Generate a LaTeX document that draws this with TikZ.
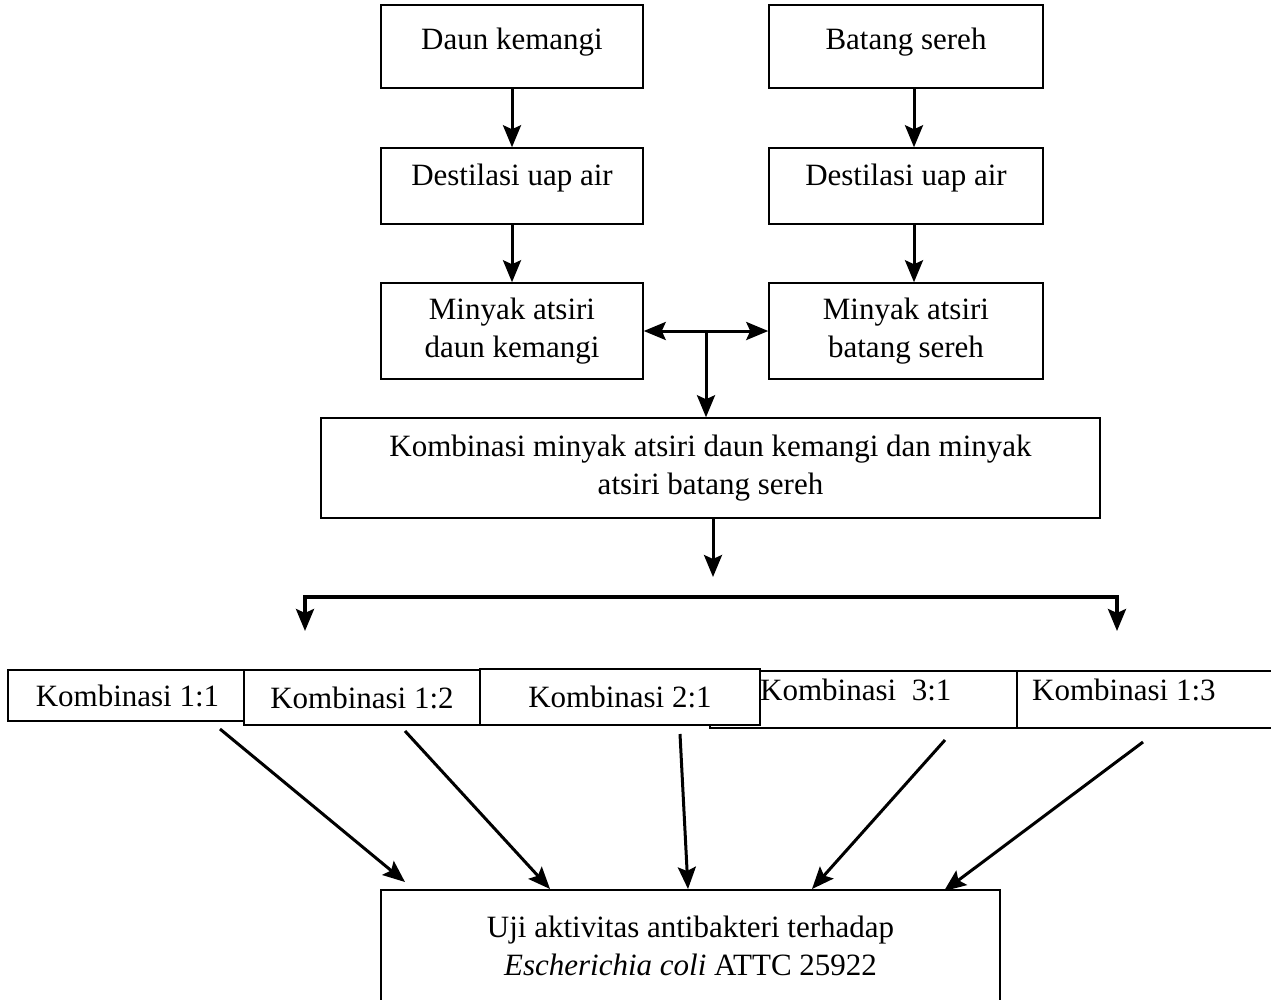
\documentclass[tikz,border=0pt]{standalone}
\usepackage{fontspec}
\setmainfont{Liberation Serif}
\usetikzlibrary{arrows.meta,calc}
\begin{document}
\begin{tikzpicture}[x=1pt,y=-1pt,
  box/.style={draw=black,line width=1.5pt,fill=white,inner sep=0pt,align=center,
    font=\fontsize{31}{38}\selectfont},
  txt/.style={inner sep=0pt,font=\fontsize{31}{38}\selectfont},
  tip/.tip={Stealth[length=22pt,width=18pt,inset=4pt]},
  arr/.style={line width=3pt,-tip},
  darr/.style={line width=3pt,tip-tip}]
\useasboundingbox (0,0) rectangle (1271,999);
% top boxes
\node[box,minimum width=262pt,minimum height=83pt] (dk) at (512,46.5) {};
\node[txt] at (512,42) {Daun kemangi};
\node[box,minimum width=274pt,minimum height=83pt] (bs) at (906,46.5) {};
\node[txt] at (906,42) {Batang sereh};
\node[box,minimum width=262pt,minimum height=76pt] (dl) at (512,186) {};
\node[txt] at (512,178) {Destilasi uap air};
\node[box,minimum width=274pt,minimum height=76pt] (dr) at (906,186) {};
\node[txt] at (906,178) {Destilasi uap air};
\node[box,minimum width=262pt,minimum height=96pt] (ml) at (512,331) {Minyak atsiri\\daun kemangi};
\node[box,minimum width=274pt,minimum height=96pt] (mr) at (906,331) {Minyak atsiri\\batang sereh};
\node[box,minimum width=779pt,minimum height=100pt] (kb) at (710.5,468) {Kombinasi minyak atsiri daun kemangi dan minyak\\atsiri batang sereh};
% arrows top
\draw[arr] (dk.south) -- (dl.north);
\draw[arr] ($(bs.south)+(8,0)$) -- ($(dr.north)+(8,0)$);
\draw[arr] (dl.south) -- (ml.north);
\draw[arr] ($(dr.south)+(8,0)$) -- ($(mr.north)+(8,0)$);
\draw[darr] (ml.east) -- (mr.west);
\coordinate (mid) at (706,331);
\draw[arr] (mid) -- (mid |- kb.north);
\coordinate (kbend) at (713,577);
\draw[arr] ($(kb.south)+(2.5,0)$) -- (kbend);
% bracket
\coordinate (bl) at (305,631);
\coordinate (br) at (1117,631);
\draw[darr,line width=3.4pt] (bl) -- (305,597) -- (1117,597) -- (br);
% kombinasi row
\node[box,minimum width=239pt,minimum height=51pt] (k11) at (127.5,695.5) {Kombinasi 1:1};
\node[box,minimum width=236pt,minimum height=55pt] (k12) at (362,697.5) {Kombinasi 1:2};
\node[box,minimum width=307pt,minimum height=57pt] (k31) at (863.5,699.5) {};
\node[txt,anchor=west] at (760,690) {Kombinasi\ \ 3:1};
\node[box,minimum width=260pt,minimum height=57pt] (k13) at (1147,699.5) {};
\node[txt,anchor=west] at (1032,690) {Kombinasi 1:3};
\node[box,minimum width=280pt,minimum height=56pt] (k21) at (620,697) {Kombinasi 2:1};
% test box
\node[box,minimum width=619pt,minimum height=111pt] (uji) at (690.5,945.5) {Uji aktivitas antibakteri terhadap\\\textit{Escherichia coli} ATTC 25922};
% arrows to test box
\coordinate (s1) at (220,729);
\coordinate (e1) at (405,882);
\coordinate (s2) at (405,731);
\coordinate (e2) at (550,889);
\coordinate (s3) at (680,734);
\coordinate (e3) at (688,889);
\coordinate (s4) at (945,740);
\coordinate (e4) at (812,889);
\coordinate (s5) at (1143,742);
\coordinate (e5) at (944,891);
\draw[arr] (s1) -- (e1);
\draw[arr] (s2) -- (e2);
\draw[arr] (s3) -- (e3);
\draw[arr] (s4) -- (e4);
\draw[arr] (s5) -- (e5);
\end{tikzpicture}
\end{document}
